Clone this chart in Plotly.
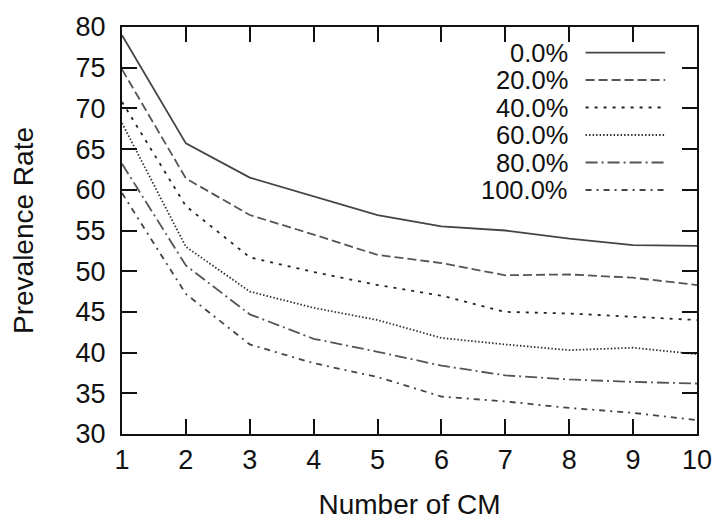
import plotly.graph_objects as go

x_cm = [1, 2, 3, 4, 5, 6, 7, 8, 9, 10]
labels = ["0.0%", "20.0%", "40.0%", "60.0%", "80.0%", "100.0%"]
s0 = [79.0, 65.7, 61.5, 59.2, 56.9, 55.5, 55.0, 54.0, 53.2, 53.1]
s20 = [74.8, 61.4, 56.9, 54.5, 52.0, 51.0, 49.5, 49.6, 49.2, 48.3]
s40 = [70.8, 58.0, 51.7, 49.9, 48.3, 47.0, 45.0, 44.8, 44.4, 44.0]
s60 = [68.2, 53.0, 47.5, 45.5, 44.0, 41.8, 41.0, 40.3, 40.6, 39.8]
s80 = [63.2, 50.7, 44.7, 41.7, 40.1, 38.4, 37.2, 36.7, 36.4, 36.2]
s100 = [59.6, 47.2, 41.0, 38.7, 37.0, 34.6, 34.0, 33.2, 32.6, 31.7]
series = [s0, s20, s40, s60, s80, s100]

dashes = ["solid", "9px,4px", "3px,6px", "1.5px,2px", "12px,4px,2px,4px", "6px,5px,2px,5px"]
colors = ["#444444", "#555555", "#222222", "#333333", "#555555", "#444444"]

W, H = 724, 528
L, R, T, B = 122, 700, 19.5, 434
FONT = "Liberation Sans, Arial, sans-serif"

fig = go.Figure()
for lab, ys, d, c in zip(labels, series, dashes, colors):
    fig.add_trace(go.Scatter(x=x_cm, y=ys, mode="lines", name=lab,
                             line=dict(color=c, width=1.8, dash=d),
                             showlegend=False))

# custom gnuplot-style key: text right-aligned, sample line on the right
def px(xp):
    return (xp - L) / (R - L)

def py(yp):
    return (B - yp) / (B - T)

KEY_TOP, KEY_STEP = 45.5, 28.0
anns = []
shapes = []
for i, (lab, d, c) in enumerate(zip(labels, dashes, colors)):
    yy = KEY_TOP + i * KEY_STEP
    anns.append(dict(x=px(571), y=py(yy), xref="paper", yref="paper",
                     text=lab, showarrow=False, xanchor="right", yanchor="middle",
                     borderpad=0,
                     font=dict(family=FONT, size=25.5, color="#111111")))
    shapes.append(dict(type="line", xref="paper", yref="paper",
                       x0=px(588), x1=px(668), y0=py(yy), y1=py(yy),
                       line=dict(color=c, width=1.8, dash=d)))

fig.update_layout(
    width=W, height=H,
    margin=dict(l=L, r=W - R, t=T, b=H - B),
    paper_bgcolor="white", plot_bgcolor="white",
    font=dict(family=FONT, size=27, color="#111111"),
    annotations=anns, shapes=shapes,
)
fig.update_xaxes(range=[1, 10], tickvals=x_cm, ticks="inside", ticklen=15,
                 tickwidth=2, tickcolor="#111111", mirror="ticks",
                 showline=True, linewidth=2, linecolor="#111111",
                 showgrid=False, zeroline=False, ticklabelstandoff=1,
                 tickfont=dict(size=27),
                 title=dict(text="Number of CM", font=dict(size=28), standoff=20))
fig.update_yaxes(range=[30, 80], tickvals=[30, 35, 40, 45, 50, 55, 60, 65, 70, 75, 80],
                 ticks="inside", ticklen=15, tickwidth=2, tickcolor="#111111",
                 mirror="ticks", showline=True, linewidth=2, linecolor="#111111",
                 showgrid=False, zeroline=False, ticklabelstandoff=9,
                 tickfont=dict(size=27),
                 title=dict(text="Prevalence Rate", font=dict(size=28), standoff=34))

fig.write_html("out.html")
